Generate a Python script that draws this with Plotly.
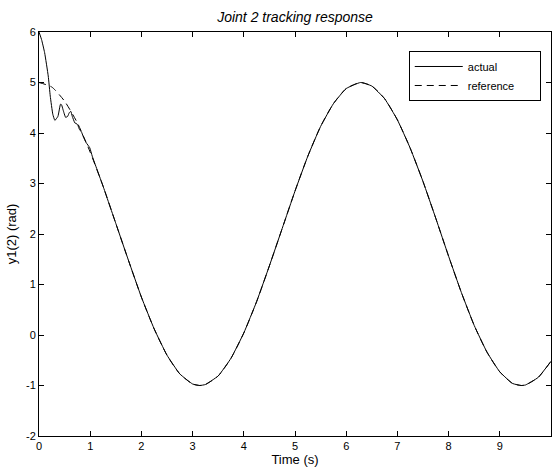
import plotly.graph_objects as go

# Reference trajectory
t_ref = [0, 0.25, 0.5, 0.75, 1.0, 1.25, 1.5, 1.75, 2.0, 2.25, 2.5, 2.75, 3.0, 3.14, 3.25,
         3.5, 3.75, 4.0, 4.25, 4.5, 4.75, 5.0, 5.25, 5.5, 5.75, 6.0, 6.28, 6.5, 6.75,
         7.0, 7.25, 7.5, 7.75, 8.0, 8.25, 8.5, 8.75, 9.0, 9.25, 9.42, 9.5, 9.75, 10.0]
y_ref = [5.00, 4.91, 4.63, 4.20, 3.62, 2.95, 2.21, 1.47, 0.75, 0.12, -0.40, -0.77, -0.97, -1.00, -0.98,
         -0.81, -0.46, 0.04, 0.66, 1.37, 2.11, 2.85, 3.54, 4.13, 4.58, 4.88, 5.00, 4.93, 4.68,
         4.26, 3.70, 3.04, 2.31, 1.56, 0.84, 0.19, -0.34, -0.73, -0.96, -1.00, -0.99, -0.84, -0.52]

# Actual response
t_act = [0, 0.05, 0.11, 0.18, 0.22, 0.27, 0.31, 0.37, 0.42, 0.44, 0.47, 0.52, 0.56, 0.59,
         0.62, 0.65, 0.70, 0.74, 0.76, 0.79, 0.83, 0.86, 0.92, 0.99, 1.04, 1.1, 1.25, 1.5,
         1.75, 2.0, 2.25, 2.5, 2.75, 3.0, 3.14, 3.25, 3.5, 3.75, 4.0, 4.25, 4.5, 4.75, 5.0,
         5.25, 5.5, 5.75, 6.0, 6.28, 6.5, 6.75, 7.0, 7.25, 7.5, 7.75, 8.0, 8.25, 8.5, 8.75,
         9.0, 9.25, 9.42, 9.5, 9.75, 10.0]
y_act = [6.00, 5.85, 5.59, 5.13, 4.73, 4.37, 4.25, 4.33, 4.57, 4.56, 4.46, 4.31, 4.33, 4.40,
         4.43, 4.33, 4.20, 4.18, 4.15, 4.07, 4.02, 3.94, 3.81, 3.71, 3.54, 3.37, 2.95, 2.21,
         1.47, 0.75, 0.12, -0.40, -0.77, -0.97, -1.00, -0.98, -0.81, -0.46, 0.04, 0.66, 1.37, 2.11, 2.85,
         3.54, 4.13, 4.58, 4.88, 5.00, 4.93, 4.68, 4.26, 3.70, 3.04, 2.31, 1.56, 0.84, 0.19, -0.34,
         -0.73, -0.96, -1.00, -0.99, -0.84, -0.52]

x_ticks = list(range(0, 11))
y_ticks = list(range(-2, 7))

NB = "\u00a0"
fig = go.Figure()
fig.add_trace(go.Scatter(x=t_act, y=y_act, mode="lines", name="actual" + NB * 12,
                         line=dict(color="black", width=1, shape="spline", smoothing=0.4)))
fig.add_trace(go.Scatter(x=t_ref, y=y_ref, mode="lines", name="reference" + NB * 6,
                         line=dict(color="black", width=1, dash="7px,5px", shape="spline", smoothing=0.6)))

axis_common = dict(showgrid=False, zeroline=False, showline=True, linecolor="black", linewidth=1,
                   mirror="ticks", ticks="inside", ticklen=5, tickcolor="black", automargin=False,
                   tickfont=dict(family="Liberation Sans, Arial", size=11, color="black"))

fig.update_layout(
    width=555, height=473,
    margin=dict(l=39, r=4, t=32, b=37),
    paper_bgcolor="white", plot_bgcolor="white",
    font=dict(family="Liberation Sans, Arial", size=11, color="black"),
    title=dict(text="<i>Joint 2 tracking response</i>", x=(39 + 551) / 2 / 555, xanchor="center",
               y=1 - 17 / 473, yanchor="middle", font=dict(size=14)),
    xaxis=dict(range=[0, 10], tickvals=x_ticks, ticktext=[str(v) for v in x_ticks],
               title=dict(text="Time (s)", standoff=2, font=dict(size=13)), **axis_common),
    yaxis=dict(range=[-2, 6], tickvals=y_ticks, ticktext=[str(v) for v in y_ticks],
               title=dict(text="y1(2) (rad)", standoff=6, font=dict(size=13)), **axis_common),
    legend=dict(x=0.980, y=0.953, xanchor="right", yanchor="top", bgcolor="white",
                bordercolor="black", borderwidth=1, font=dict(size=11), itemwidth=48,
                tracegroupgap=0, traceorder="normal"),
    showlegend=True,
)

fig.write_html("out.html", config={"displayModeBar": False},
               post_script="document.body.style.margin='0';document.body.style.overflow='hidden';")
